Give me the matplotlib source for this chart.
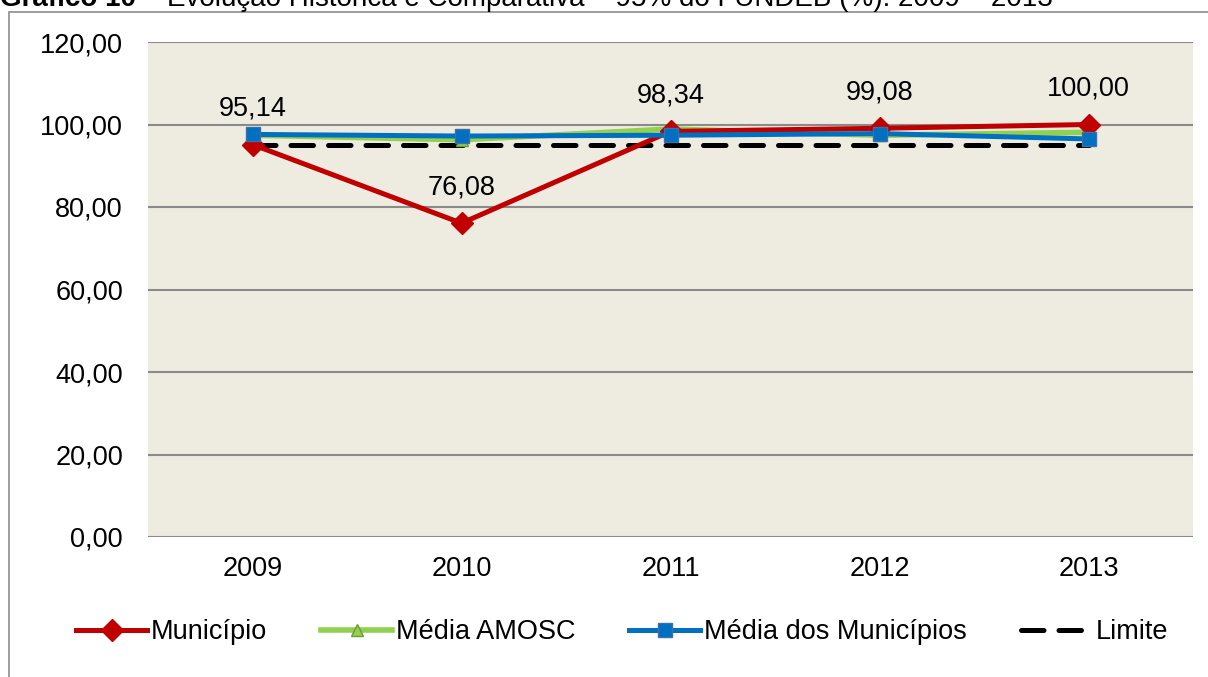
import matplotlib.pyplot as plt
from matplotlib.patches import Rectangle

plt.rcParams['font.family'] = ['Liberation Sans', 'DejaVu Sans']

anos = ['2009', '2010', '2011', '2012', '2013']
municipio = [95.14, 76.08, 98.34, 99.08, 100.00]
media_amosc = [97.4, 96.3, 98.9, 97.4, 98.1]
media_municipios = [97.6, 97.2, 97.4, 97.8, 96.5]
limite = [95.0, 95.0, 95.0, 95.0, 95.0]
yticks = [0, 20, 40, 60, 80, 100, 120]

W, H = 1208, 677
FS = 19.5
fig = plt.figure(figsize=(W / 100, H / 100), dpi=100)
fig.patch.set_facecolor('white')

# moldura externa
fig.patches.append(Rectangle((9 / W, -0.01), 1.1, 1 - 12 / H + 0.01,
                             transform=fig.transFigure, fill=False,
                             edgecolor='#8c8c8c', linewidth=1.2))

# titulo (cortado no topo na imagem original)
t1 = fig.text(0.0, 1 - 6 / H, 'Gráfico 10', fontsize=20, fontweight='bold',
              ha='left', va='baseline')
r = fig.canvas.get_renderer()
x_fim = t1.get_window_extent(r).x1 / W
fig.text(x_fim, 1 - 6 / H,
         ' – Evolução Histórica e Comparativa – 95% do FUNDEB (%): 2009 – 2013',
         fontsize=20, ha='left', va='baseline')

ax = fig.add_axes([148 / W, 1 - 537 / H, (1193 - 148) / W, (537 - 42) / H])
ax.set_facecolor('#EEEBE0')
x = range(len(anos))

ax.plot(x, municipio, color='#C00000', lw=3.6, marker='D', ms=11,
        label='Município', zorder=4)
ax.plot(x, media_amosc, color='#92D050', lw=4, marker='^', ms=9,
        mfc='#92D050', mec='#6E9A3C', label='Média AMOSC', zorder=3)
ax.plot(x, media_municipios, color='#0070C0', lw=3.6, marker='s', ms=10,
        mec='#3d6fa8', label='Média dos Municípios', zorder=5)
ax.plot(x, limite, color='black', lw=3.6, dashes=(4.5, 3), dash_capstyle='round',
        label='Limite', zorder=2)

for i, v in enumerate(municipio):
    ax.annotate(f'{v:.2f}'.replace('.', ','), (i, v), xytext=(0, 26),
                textcoords='offset points', ha='center', va='center', fontsize=FS)

ax.set_xlim(-0.5, len(anos) - 0.5)
ax.set_ylim(0, 120)
ax.set_xticks(list(x))
ax.set_xticklabels(anos)
ax.set_yticks(yticks)
ax.set_yticklabels([f'{v:.2f}'.replace('.', ',') for v in yticks])
ax.tick_params(axis='both', length=0, labelsize=FS)
ax.tick_params(axis='y', pad=18)
ax.tick_params(axis='x', pad=14)
ax.grid(axis='y', color='#8a8a8a', lw=1.5)
ax.set_axisbelow(True)
for s in ax.spines.values():
    s.set_visible(False)

fig.legend(loc='center', bbox_to_anchor=(0.515, 1 - 632 / H), ncol=4,
           frameon=False, fontsize=FS, handlelength=2.6, handletextpad=0.15,
           columnspacing=2.0)

fig.savefig('out.png', dpi=100)
